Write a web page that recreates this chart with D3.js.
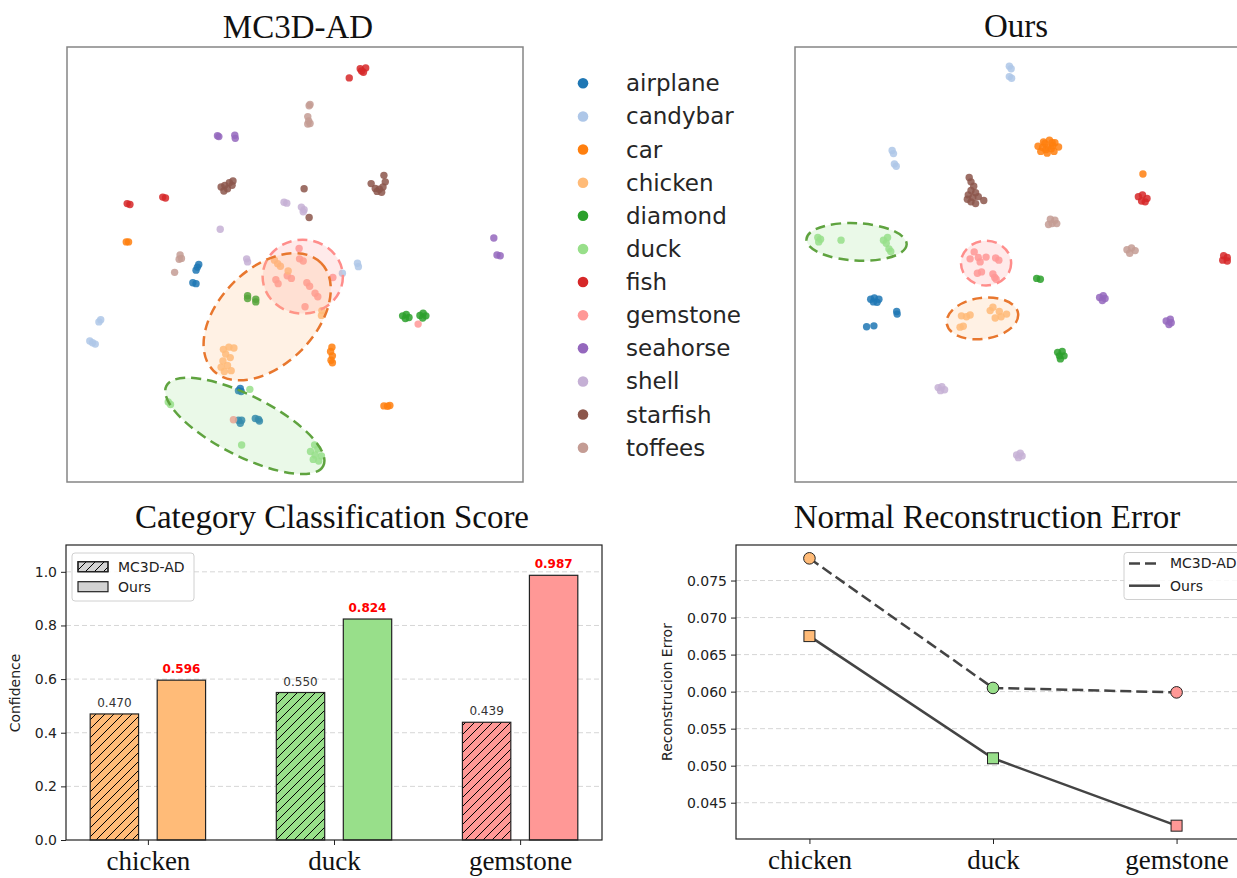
<!DOCTYPE html>
<html>
<head>
<meta charset="utf-8">
<script src="https://cdn.jsdelivr.net/npm/d3@7"></script>
<style>
  body { margin: 0; background: #fff; }
  svg { display: block; }
</style>
</head>
<body>
<svg id="chart"></svg>
<script>
// ---------- data ----------
const categories = ["airplane", "candybar", "car", "chicken", "diamond", "duck",
  "fish", "gemstone", "seahorse", "shell", "starfish", "toffees"];

// t-SNE embedding of MC3D-AD features (x, y in 0..100)
const mc3dPoints = [
  ["fish", 64.3, 95.0], ["fish", 65.5, 95.2], ["fish", 65.0, 94.2], ["fish", 64.6, 94.5], ["fish", 61.9, 92.9],
  ["fish", 13.2, 64.0], ["fish", 13.8, 63.8], ["fish", 21.0, 65.5], ["fish", 21.6, 65.3],
  ["toffees", 53.1, 86.5], ["toffees", 53.3, 86.8], ["toffees", 52.8, 84.0], ["toffees", 53.0, 83.0],
  ["toffees", 52.8, 82.3], ["toffees", 53.3, 82.4], ["toffees", 24.8, 52.2], ["toffees", 25.1, 51.4],
  ["toffees", 24.6, 51.2], ["toffees", 23.6, 48.2],
  ["seahorse", 33.0, 79.6], ["seahorse", 33.3, 79.4], ["seahorse", 36.8, 79.7], ["seahorse", 36.9, 79.0],
  ["seahorse", 93.6, 56.1], ["seahorse", 94.3, 52.2], ["seahorse", 95.0, 52.0],
  ["starfish", 36.4, 69.2], ["starfish", 35.6, 68.8], ["starfish", 34.6, 68.2], ["starfish", 33.8, 67.8],
  ["starfish", 35.2, 67.4], ["starfish", 34.4, 66.9], ["starfish", 36.2, 68.2], ["starfish", 52.0, 67.4],
  ["starfish", 53.1, 60.8], ["starfish", 69.5, 70.5], ["starfish", 69.8, 69.0], ["starfish", 69.3, 67.8],
  ["starfish", 68.5, 67.3], ["starfish", 67.6, 67.5], ["starfish", 66.7, 68.6], ["starfish", 68.0, 66.8],
  ["starfish", 69.0, 66.6],
  ["shell", 47.6, 64.3], ["shell", 48.2, 64.1], ["shell", 51.4, 63.2], ["shell", 52.0, 62.6],
  ["shell", 51.8, 62.1], ["shell", 33.6, 58.1], ["shell", 39.4, 51.3], ["shell", 39.6, 50.6],
  ["car", 13.0, 55.2], ["car", 13.5, 55.2], ["car", 58.1, 31.0], ["car", 57.8, 30.0], ["car", 58.2, 29.0],
  ["car", 57.9, 28.0], ["car", 58.2, 27.4], ["car", 69.5, 17.5], ["car", 70.3, 17.4], ["car", 70.8, 17.6],
  ["airplane", 28.3, 48.7], ["airplane", 28.6, 49.4], ["airplane", 28.9, 50.0], ["airplane", 27.6, 45.8],
  ["airplane", 28.3, 45.6], ["airplane", 37.6, 21.0], ["airplane", 38.2, 20.8], ["airplane", 38.0, 21.5],
  ["airplane", 37.6, 14.2], ["airplane", 38.0, 13.5], ["airplane", 38.3, 14.2], ["airplane", 41.3, 14.6],
  ["airplane", 42.0, 14.4], ["airplane", 42.2, 14.0],
  ["candybar", 63.7, 50.3], ["candybar", 63.9, 49.5], ["candybar", 60.4, 48.0], ["candybar", 7.0, 36.8],
  ["candybar", 7.4, 37.3], ["candybar", 5.0, 32.4], ["candybar", 5.6, 32.0], ["candybar", 6.2, 31.7],
  ["diamond", 39.6, 42.8], ["diamond", 39.6, 42.2], ["diamond", 41.4, 42.0], ["diamond", 41.4, 41.4],
  ["diamond", 73.6, 38.2], ["diamond", 74.4, 38.5], ["diamond", 75.0, 37.8], ["diamond", 74.2, 37.6],
  ["diamond", 77.4, 38.3], ["diamond", 78.1, 38.8], ["diamond", 78.7, 38.2], ["diamond", 78.0, 37.7],
  ["gemstone", 50.9, 53.7], ["gemstone", 51.0, 51.3], ["gemstone", 51.8, 50.8], ["gemstone", 45.8, 46.5],
  ["gemstone", 46.3, 45.6], ["gemstone", 48.3, 47.4], ["gemstone", 49.2, 46.8], ["gemstone", 52.6, 45.8],
  ["gemstone", 53.2, 45.0], ["gemstone", 54.4, 43.4], ["gemstone", 55.0, 42.6], ["gemstone", 52.2, 40.3],
  ["gemstone", 58.3, 47.0], ["gemstone", 77.0, 36.3], ["gemstone", 36.5, 14.3],
  ["chicken", 45.5, 51.0], ["chicken", 46.2, 50.2], ["chicken", 46.8, 49.6], ["chicken", 48.5, 48.5],
  ["chicken", 55.9, 39.4], ["chicken", 55.8, 38.3], ["chicken", 35.5, 31.0], ["chicken", 34.3, 30.5],
  ["chicken", 36.6, 30.8], ["chicken", 34.8, 29.4], ["chicken", 35.8, 28.6], ["chicken", 34.2, 27.8],
  ["chicken", 35.2, 26.8], ["chicken", 33.8, 26.4], ["chicken", 36.0, 25.6], ["chicken", 34.5, 25.4],
  ["duck", 22.2, 18.4], ["duck", 22.7, 17.8], ["duck", 40.1, 21.3], ["duck", 38.3, 8.5], ["duck", 54.3, 8.5],
  ["duck", 55.0, 7.6], ["duck", 53.4, 7.0], ["duck", 54.4, 6.2], ["duck", 55.8, 6.0], ["duck", 54.0, 5.2],
  ["duck", 55.2, 4.8]
];

// t-SNE embedding of our features
const oursPoints = [
  ["candybar", 47.0, 95.6], ["candybar", 47.4, 95.0], ["candybar", 47.0, 93.2], ["candybar", 47.5, 92.8],
  ["candybar", 21.3, 76.2], ["candybar", 21.6, 75.5], ["candybar", 21.8, 73.1], ["candybar", 22.2, 72.6],
  ["car", 53.3, 77.2], ["car", 54.5, 78.2], ["car", 55.8, 78.6], ["car", 57.0, 78.0], ["car", 57.8, 77.0],
  ["car", 56.8, 76.0], ["car", 55.3, 75.6], ["car", 53.9, 76.0], ["car", 55.5, 77.0], ["car", 54.3, 76.9],
  ["car", 56.5, 77.3], ["car", 55.0, 76.4], ["car", 56.2, 76.6], ["car", 54.8, 77.8], ["car", 56.4, 78.0],
  ["car", 76.3, 70.8],
  ["starfish", 38.2, 70.0], ["starfish", 38.6, 69.0], ["starfish", 39.2, 68.0], ["starfish", 38.6, 67.0],
  ["starfish", 39.6, 66.5], ["starfish", 38.0, 66.0], ["starfish", 39.0, 65.4], ["starfish", 40.2, 65.6],
  ["starfish", 38.6, 64.4], ["starfish", 39.6, 64.0], ["starfish", 41.4, 64.7], ["starfish", 37.8, 65.0],
  ["fish", 75.3, 65.6], ["fish", 76.2, 66.0], ["fish", 77.2, 65.2], ["fish", 76.0, 64.6], ["fish", 76.8, 64.4],
  ["fish", 94.0, 52.0], ["fish", 94.8, 51.6], ["fish", 93.8, 51.0], ["fish", 94.8, 50.8],
  ["toffees", 56.0, 60.4], ["toffees", 57.0, 60.2], ["toffees", 56.4, 59.4], ["toffees", 57.4, 59.4],
  ["toffees", 55.6, 59.2], ["toffees", 72.8, 53.4], ["toffees", 73.8, 53.8], ["toffees", 74.6, 53.2],
  ["toffees", 73.4, 52.6],
  ["duck", 5.0, 56.2], ["duck", 5.6, 55.8], ["duck", 5.2, 55.2], ["duck", 10.1, 55.6], ["duck", 19.4, 55.6],
  ["duck", 20.3, 56.2], ["duck", 20.0, 54.9], ["duck", 21.0, 53.0], ["duck", 20.6, 53.6],
  ["gemstone", 38.4, 51.3], ["gemstone", 40.2, 51.6], ["gemstone", 40.6, 50.6], ["gemstone", 39.3, 52.9],
  ["gemstone", 44.0, 51.5], ["gemstone", 44.7, 51.0], ["gemstone", 40.0, 48.0], ["gemstone", 40.9, 48.3],
  ["gemstone", 43.4, 47.8], ["gemstone", 43.8, 47.0], ["gemstone", 44.1, 46.6], ["gemstone", 41.9, 51.7],
  ["diamond", 53.0, 46.8], ["diamond", 53.8, 46.6], ["diamond", 57.6, 29.8], ["diamond", 58.6, 30.0],
  ["diamond", 58.0, 29.0], ["diamond", 59.0, 29.0], ["diamond", 58.2, 28.3],
  ["seahorse", 66.8, 42.4], ["seahorse", 67.6, 42.8], ["seahorse", 67.4, 41.7], ["seahorse", 68.0, 42.2],
  ["seahorse", 81.4, 37.0], ["seahorse", 82.3, 37.4], ["seahorse", 82.0, 36.2], ["seahorse", 82.5, 36.6],
  ["airplane", 16.6, 42.0], ["airplane", 17.4, 42.3], ["airplane", 18.4, 42.0], ["airplane", 17.2, 41.4],
  ["airplane", 18.0, 41.3], ["airplane", 22.3, 39.2], ["airplane", 22.4, 38.6], ["airplane", 15.7, 35.7],
  ["airplane", 17.3, 35.9],
  ["chicken", 36.5, 38.2], ["chicken", 37.6, 38.0], ["chicken", 36.2, 35.6], ["chicken", 36.9, 35.8],
  ["chicken", 42.8, 39.4], ["chicken", 43.4, 40.2], ["chicken", 44.8, 39.2], ["chicken", 45.2, 38.0],
  ["chicken", 46.4, 38.6], ["chicken", 38.4, 38.4], ["chicken", 43.9, 37.7],
  ["shell", 31.4, 21.7], ["shell", 32.2, 21.9], ["shell", 32.8, 21.2], ["shell", 31.9, 21.0],
  ["shell", 48.6, 6.2], ["shell", 49.4, 6.6], ["shell", 49.8, 6.0], ["shell", 49.0, 5.6]
];

// highlighted groups (centre, radii in x units, rotation in degrees)
const mc3dRegions = [
  { cat: "gemstone", cx: 51.7, cy: 47.2, rx: 8.8, ry: 8.1, angle: 0 },
  { cat: "chicken", cx: 43.9, cy: 38.0, rx: 16.7, ry: 10.5, angle: -45 },
  { cat: "duck", cx: 39.0, cy: 12.9, rx: 19.3, ry: 6.6, angle: 27 }
];
const oursRegions = [
  { cat: "gemstone", cx: 41.9, cy: 50.3, rx: 5.5, ry: 4.9, angle: 0 },
  { cat: "chicken", cx: 41.1, cy: 37.6, rx: 7.9, ry: 4.5, angle: -8 },
  { cat: "duck", cx: 13.5, cy: 55.2, rx: 11.0, ry: 4.1, angle: 3 }
];

const barCategories = ["chicken", "duck", "gemstone"];
const mc3dConfidence = [0.470, 0.550, 0.439];
const oursConfidence = [0.596, 0.824, 0.987];
const confidenceTicks = [0.0, 0.2, 0.4, 0.6, 0.8, 1.0];

const mc3dError = [0.0780, 0.0605, 0.0599];
const oursError = [0.0675, 0.0510, 0.0419];
const errorTicks = [0.045, 0.050, 0.055, 0.060, 0.065, 0.070, 0.075];

// ---------- setup ----------
const width = 1237;
const height = 878;
const serif = "'Liberation Serif', 'Times New Roman', serif";
const sans = "'DejaVu Sans', sans-serif";

const color = d3.scaleOrdinal()
  .domain(categories)
  .range(["#1f77b4", "#aec7e8", "#ff7f0e", "#ffbb78", "#2ca02c", "#98df8a",
          "#d62728", "#ff9896", "#9467bd", "#c5b0d5", "#8c564b", "#c49c94"]);

// darker outline for the highlighted groups
const regionStroke = { chicken: "#e8772e", duck: "#5fa33f", gemstone: "#ff8d8b" };

const svg = d3.select("#chart")
  .attr("width", width)
  .attr("height", height)
  .style("background", "#fff");

// hatch pattern for the MC3D-AD bars
svg.append("defs").append("pattern")
  .attr("id", "hatch")
  .attr("patternUnits", "userSpaceOnUse")
  .attr("width", 9)
  .attr("height", 9)
  .append("path")
  .attr("d", "M-1,1 l2,-2 M0,9 l9,-9 M8,10 l2,-2")
  .attr("stroke", "#000")
  .attr("stroke-width", 1);

function title(text, x, y) {
  svg.append("text")
    .attr("x", x).attr("y", y)
    .attr("text-anchor", "middle")
    .style("font-family", serif)
    .style("font-size", "33px")
    .style("fill", "#111")
    .text(text);
}

// ---------- t-SNE scatter panels ----------
function drawScatter(points, regions, left) {
  const x = d3.scaleLinear().domain([0, 100]).range([left, left + 456]);
  const y = d3.scaleLinear().domain([0, 100]).range([482, 47]);
  const g = svg.append("g");

  g.selectAll(".pt")
    .data(points)
    .enter()
    .append("circle")
    .attr("class", "pt")
    .attr("cx", d => x(d[1]))
    .attr("cy", d => y(d[2]))
    .attr("r", 3.7)
    .attr("fill", d => color(d[0]))
    .attr("fill-opacity", 0.85);

  // dashed ellipses drawn on top of the points
  g.selectAll(".region")
    .data(regions)
    .enter()
    .append("ellipse")
    .attr("class", "region")
    .attr("transform", d => `translate(${x(d.cx)},${y(d.cy)}) rotate(${d.angle})`)
    .attr("rx", d => x(d.rx) - x(0))
    .attr("ry", d => x(d.ry) - x(0))
    .attr("fill", d => color(d.cat))
    .attr("fill-opacity", 0.2)
    .attr("stroke", d => regionStroke[d.cat])
    .attr("stroke-width", 2.5)
    .attr("stroke-dasharray", "10,6");

  g.append("rect")
    .attr("x", left).attr("y", 47)
    .attr("width", 456).attr("height", 435)
    .attr("fill", "none")
    .attr("stroke", "#858585")
    .attr("stroke-width", 1.5);
}

drawScatter(mc3dPoints, mc3dRegions, 67);
drawScatter(oursPoints, oursRegions, 795);
title("MC3D-AD", 298, 38);
title("Ours", 1016, 37);

// category legend between the panels
const legend = svg.append("g");
const legendRow = d3.scalePoint().domain(categories).range([83.3, 447.7]);
legend.selectAll("circle")
  .data(categories)
  .enter()
  .append("circle")
  .attr("cx", 583)
  .attr("cy", d => legendRow(d))
  .attr("r", 5.3)
  .attr("fill", d => color(d));
legend.selectAll("text")
  .data(categories)
  .enter()
  .append("text")
  .attr("x", 626)
  .attr("y", d => legendRow(d))
  .attr("dy", "0.35em")
  .style("font-family", sans)
  .style("font-size", "23px")
  .style("fill", "#262626")
  .text(d => d);

// ---------- shared axis helpers ----------
function styleAxis(sel) {
  sel.select(".domain").remove();
  sel.selectAll("line").attr("stroke", "#222").attr("stroke-width", 1);
}

function gridLines(g, ticks, yScale, x1, x2) {
  g.selectAll(".grid")
    .data(ticks)
    .enter()
    .append("line")
    .attr("class", "grid")
    .attr("x1", x1).attr("x2", x2)
    .attr("y1", d => yScale(d)).attr("y2", d => yScale(d))
    .attr("stroke", "#d6d6d6")
    .attr("stroke-width", 1)
    .attr("stroke-dasharray", "5,3");
}

function categoryAxis(g, xScale, yPos) {
  const ax = g.append("g")
    .attr("transform", `translate(0,${yPos})`)
    .call(d3.axisBottom(xScale).tickValues([0, 1, 2]).tickFormat(i => barCategories[i]).tickSize(5));
  styleAxis(ax);
  ax.selectAll("text")
    .attr("y", 30)
    .attr("dy", null)
    .style("font-family", serif)
    .style("font-size", "27px")
    .style("fill", "#111");
}

// ---------- bar chart: Category Classification Score ----------
const bar = svg.append("g");
const bx = d3.scaleLinear().domain([-0.44, 2.44]).range([66, 602]);
const by = d3.scaleLinear().domain([0, 1.1]).range([840, 545]);
const barW = 0.26;
const barOff = 0.18;

gridLines(bar, confidenceTicks.slice(1), by, 66, 602);

const barData = barCategories.map((c, i) => ({ cat: c, i: i, mc3d: mc3dConfidence[i], ours: oursConfidence[i] }));

// MC3D-AD bars: colour fill + hatch overlay
["fill", "hatch"].forEach(layer => {
  bar.selectAll(".mc3d-" + layer)
    .data(barData)
    .enter()
    .append("rect")
    .attr("class", "mc3d-" + layer)
    .attr("x", d => bx(d.i - barOff - barW / 2))
    .attr("width", bx(barW) - bx(0))
    .attr("y", d => by(d.mc3d))
    .attr("height", d => by(0) - by(d.mc3d))
    .attr("fill", d => layer === "fill" ? color(d.cat) : "url(#hatch)")
    .attr("stroke", layer === "hatch" ? "#222" : "none")
    .attr("stroke-width", 1.2);
});

bar.selectAll(".ours")
  .data(barData)
  .enter()
  .append("rect")
  .attr("class", "ours")
  .attr("x", d => bx(d.i + barOff - barW / 2))
  .attr("width", bx(barW) - bx(0))
  .attr("y", d => by(d.ours))
  .attr("height", d => by(0) - by(d.ours))
  .attr("fill", d => color(d.cat))
  .attr("stroke", "#222")
  .attr("stroke-width", 1.2);

// value labels
bar.selectAll(".lab-mc3d")
  .data(barData)
  .enter()
  .append("text")
  .attr("x", d => bx(d.i - barOff))
  .attr("y", d => by(d.mc3d) - 7)
  .attr("text-anchor", "middle")
  .style("font-family", sans)
  .style("font-size", "12px")
  .style("fill", "#333")
  .text(d => d.mc3d.toFixed(3));
bar.selectAll(".lab-ours")
  .data(barData)
  .enter()
  .append("text")
  .attr("x", d => bx(d.i + barOff))
  .attr("y", d => by(d.ours) - 7)
  .attr("text-anchor", "middle")
  .style("font-family", sans)
  .style("font-size", "12px")
  .style("font-weight", "bold")
  .style("fill", "#ff0000")
  .text(d => d.ours.toFixed(3));

const barY = bar.append("g")
  .attr("transform", "translate(66,0)")
  .call(d3.axisLeft(by).tickValues(confidenceTicks).tickFormat(d3.format(".1f")).tickSize(5).tickPadding(4));
styleAxis(barY);
barY.selectAll("text").style("font-family", sans).style("font-size", "14px").style("fill", "#222");
categoryAxis(bar, bx, 840);

bar.append("rect")
  .attr("x", 66).attr("y", 545)
  .attr("width", 536).attr("height", 295)
  .attr("fill", "none").attr("stroke", "#222").attr("stroke-width", 1.2);

bar.append("text")
  .attr("transform", "translate(20,693) rotate(-90)")
  .attr("text-anchor", "middle")
  .style("font-family", sans)
  .style("font-size", "14px")
  .style("fill", "#222")
  .text("Confidence");

// legend
const barLegend = bar.append("g");
barLegend.append("rect")
  .attr("x", 72).attr("y", 553).attr("width", 122).attr("height", 48).attr("rx", 3)
  .attr("fill", "#fff").attr("fill-opacity", 0.85).attr("stroke", "#d0d0d0");
[["MC3D-AD", 566.7, true], ["Ours", 586.7, false]].forEach(([name, yy, hatched]) => {
  barLegend.append("rect")
    .attr("x", 78).attr("y", yy - 5).attr("width", 30).attr("height", 10)
    .attr("fill", "#d3d3d3").attr("stroke", "#222").attr("stroke-width", 1.2);
  if (hatched) {
    barLegend.append("rect")
      .attr("x", 78).attr("y", yy - 5).attr("width", 30).attr("height", 10)
      .attr("fill", "url(#hatch)").attr("stroke", "#222").attr("stroke-width", 1.2);
  }
  barLegend.append("text")
    .attr("x", 118).attr("y", yy).attr("dy", "0.35em")
    .style("font-family", sans).style("font-size", "14px").style("fill", "#222")
    .text(name);
});

title("Category Classification Score", 332, 528);

// ---------- line chart: Normal Reconstruction Error ----------
const line = svg.append("g");
const lx = d3.scaleLinear().domain([-0.4, 2.4]).range([736, 1250]);
const ly = d3.scaleLinear().domain([0.0401, 0.0798]).range([839, 545]);

gridLines(line, errorTicks, ly, 736, 1250);

const errLine = d3.line().x((d, i) => lx(i)).y(d => ly(d));
line.append("path")
  .datum(mc3dError)
  .attr("d", errLine)
  .attr("fill", "none")
  .attr("stroke", "#444")
  .attr("stroke-width", 2.5)
  .attr("stroke-dasharray", "11,5");
line.append("path")
  .datum(oursError)
  .attr("d", errLine)
  .attr("fill", "none")
  .attr("stroke", "#444")
  .attr("stroke-width", 2.5);

line.selectAll(".m-mc3d")
  .data(mc3dError)
  .enter()
  .append("circle")
  .attr("cx", (d, i) => lx(i))
  .attr("cy", d => ly(d))
  .attr("r", 5.8)
  .attr("fill", (d, i) => color(barCategories[i]))
  .attr("stroke", "#222")
  .attr("stroke-width", 1);
line.selectAll(".m-ours")
  .data(oursError)
  .enter()
  .append("rect")
  .attr("x", (d, i) => lx(i) - 5.5)
  .attr("y", d => ly(d) - 5.5)
  .attr("width", 11)
  .attr("height", 11)
  .attr("fill", (d, i) => color(barCategories[i]))
  .attr("stroke", "#222")
  .attr("stroke-width", 1);

const lineY = line.append("g")
  .attr("transform", "translate(736,0)")
  .call(d3.axisLeft(ly).tickValues(errorTicks).tickFormat(d3.format(".3f")).tickSize(5).tickPadding(4));
styleAxis(lineY);
lineY.selectAll("text").style("font-family", sans).style("font-size", "14px").style("fill", "#222");
categoryAxis(line, lx, 839);

line.append("rect")
  .attr("x", 736).attr("y", 545)
  .attr("width", 514).attr("height", 294)
  .attr("fill", "none").attr("stroke", "#222").attr("stroke-width", 1.2);

line.append("text")
  .attr("transform", "translate(672,692) rotate(-90)")
  .attr("text-anchor", "middle")
  .style("font-family", sans)
  .style("font-size", "14px")
  .style("fill", "#222")
  .text("Reconstrucion Error");

// legend
const lineLegend = line.append("g");
lineLegend.append("rect")
  .attr("x", 1124).attr("y", 552.5).attr("width", 124).attr("height", 47).attr("rx", 3)
  .attr("fill", "#fff").attr("fill-opacity", 0.85).attr("stroke", "#d0d0d0");
[["MC3D-AD", 563.5, "11,5"], ["Ours", 585.7, null]].forEach(([name, yy, dash]) => {
  lineLegend.append("line")
    .attr("x1", 1129).attr("x2", 1160).attr("y1", yy).attr("y2", yy)
    .attr("stroke", "#444").attr("stroke-width", 2.5)
    .attr("stroke-dasharray", dash);
  lineLegend.append("text")
    .attr("x", 1170).attr("y", yy).attr("dy", "0.35em")
    .style("font-family", sans).style("font-size", "14px").style("fill", "#222")
    .text(name);
});

title("Normal Reconstruction Error", 987, 528);
</script>
</body>
</html>
